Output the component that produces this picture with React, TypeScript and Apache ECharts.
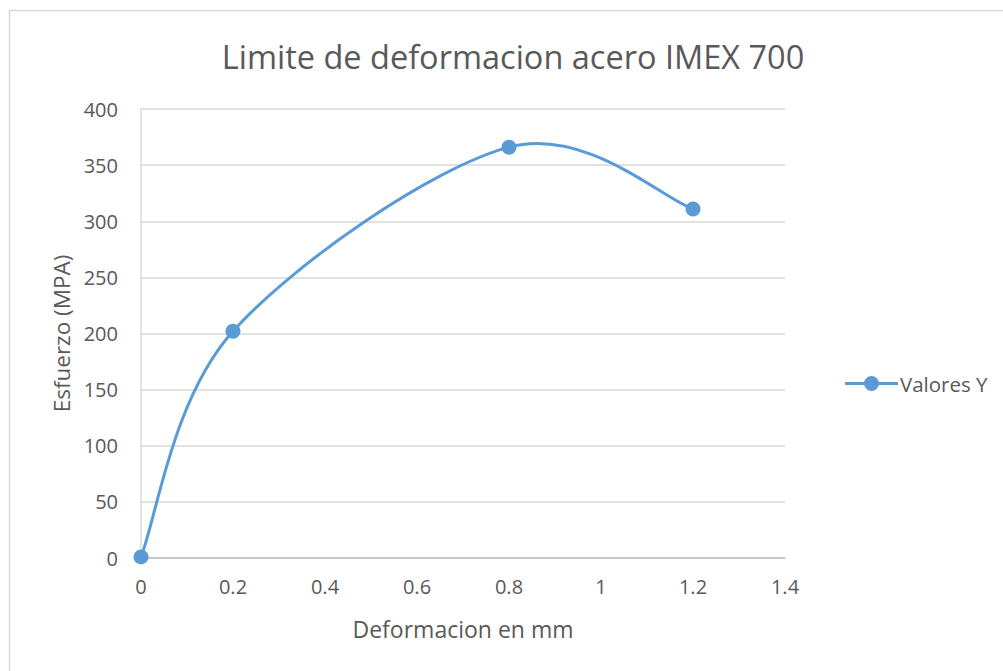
import React, { useEffect, useRef } from "react";
import * as echarts from "echarts";

const xValues = [0, 0.2, 0.8, 1.2];
const yValues = [1, 202, 366, 311];
const seriesName = "Valores Y";
const titleText = "Limite de deformacion acero IMEX 700";
const xAxisName = "Deformacion en mm";
const yAxisName = "Esfuerzo (MPA)";

const FONT = "Open Sans";
const TEXT_COLOR = "#595959";
const BLUE = "#5b9bd5";

const legendIcon =
  "path://M0,6 L20,6 L20,9 L0,9 Z M33,6 L53,6 L53,9 L33,9 Z M19,7.5 A7.5,7.5 0 1,1 34,7.5 A7.5,7.5 0 1,1 19,7.5 Z";

export default function App() {
  const ref = useRef<HTMLDivElement>(null);
  useEffect(() => {
    if (!ref.current) return;
    const chart = echarts.init(ref.current, undefined, { renderer: "svg" });
    const n = xValues.length;
    chart.setOption({
      animation: false,
      backgroundColor: "#ffffff",
      textStyle: { fontFamily: FONT, color: TEXT_COLOR },
      title: {
        text: titleText,
        left: 508,
        top: 35,
        textAlign: "center",
        textStyle: { fontFamily: FONT, fontSize: 32.5, fontWeight: "normal", color: TEXT_COLOR },
      },
      graphic: [
        {
          type: "rect",
          shape: { x: 9.5, y: 10.5, width: 1000, height: 700 },
          style: { fill: "none", stroke: "#d9d9d9", lineWidth: 1.5 },
          silent: true,
        },
      ],
      legend: {
        left: 840,
        top: 368,
        itemWidth: 53,
        itemHeight: 15,
        itemGap: 6,
        textStyle: { fontFamily: FONT, fontSize: 20.5, color: TEXT_COLOR, padding: [0, 0, 0, -3] },
        data: [{ name: seriesName, icon: legendIcon }],
      },
      grid: { left: 141, top: 109, right: 218, bottom: 113, containLabel: false },
      xAxis: {
        type: "value",
        min: 0,
        max: 1.4,
        interval: 0.2,
        name: xAxisName,
        nameLocation: "middle",
        nameGap: 59,
        nameTextStyle: { fontFamily: FONT, fontSize: 23, color: TEXT_COLOR },
        axisLine: { show: true, lineStyle: { color: "#bfbfbf", width: 1.5 } },
        axisTick: { show: false },
        splitLine: { show: false },
        axisLabel: { fontFamily: FONT, fontSize: 20, color: TEXT_COLOR, margin: 18 },
      },
      yAxis: {
        type: "value",
        min: 0,
        max: 400,
        interval: 50,
        name: yAxisName,
        nameLocation: "middle",
        nameGap: 66,
        nameTextStyle: { fontFamily: FONT, fontSize: 22.5, color: TEXT_COLOR },
        axisLine: { show: true, lineStyle: { color: "#d9d9d9", width: 1.5 } },
        axisTick: { show: false },
        splitLine: { show: true, lineStyle: { color: "#d9d9d9", width: 1.5 } },
        axisLabel: { fontFamily: FONT, fontSize: 20, color: TEXT_COLOR, margin: 23 },
      },
      series: [
        {
          name: "curve",
          type: "custom",
          z: 1,
          clip: false,
          silent: true,
          data: xValues.slice(0, n - 1).map((x, i) => [x, yValues[i]]),
          renderItem: (params: any, api: any) => {
            const i = params.dataIndex;
            const pts = xValues.map((x, k) => api.coord([x, yValues[k]]));
            const p0 = pts[Math.max(i - 1, 0)];
            const p1 = pts[i];
            const p2 = pts[i + 1];
            const p3 = pts[Math.min(i + 2, n - 1)];
            return {
              type: "bezierCurve",
              shape: {
                x1: p1[0],
                y1: p1[1],
                x2: p2[0],
                y2: p2[1],
                cpx1: p1[0] + (p2[0] - p0[0]) / 6,
                cpy1: p1[1] + (p2[1] - p0[1]) / 6,
                cpx2: p2[0] - (p3[0] - p1[0]) / 6,
                cpy2: p2[1] - (p3[1] - p1[1]) / 6,
              },
              style: { stroke: BLUE, lineWidth: 3, fill: "none", lineCap: "round" },
            };
          },
        },
        {
          name: seriesName,
          type: "scatter",
          z: 3,
          data: xValues.map((x, i) => [x, yValues[i]]),
          symbol: "circle",
          symbolSize: 15,
          itemStyle: { color: BLUE, opacity: 1 },
          clip: false,
        },
      ],
    });
    return () => chart.dispose();
  }, []);
  return (
    <div
      ref={ref}
      style={{ position: "fixed", left: 0, top: 0, width: 1003, height: 671, background: "#fff" }}
    />
  );
}
